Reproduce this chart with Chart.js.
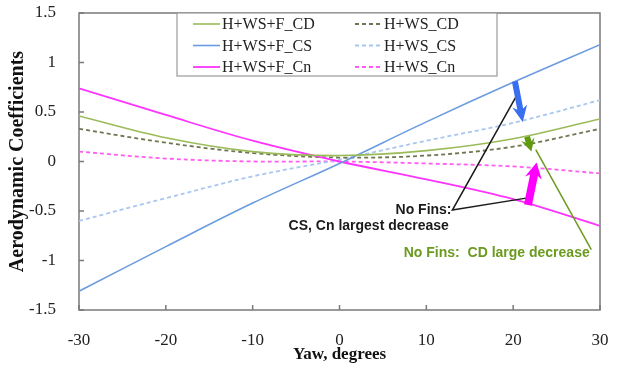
<!DOCTYPE html>
<html>
<head>
<meta charset="utf-8">
<script src="https://cdn.jsdelivr.net/npm/chart.js@4.4.1/dist/chart.umd.min.js"></script>
<style>
html, body { margin: 0; padding: 0; background: #fff; }
canvas { display: block; }
</style>
</head>
<body>
<canvas id="chart" width="617" height="368"></canvas>
<script>
// Yaw angles (degrees)
const yaw = [-30, -20, -10, 0, 10, 20, 30];

// With fins
const finsCD = [0.46, 0.24, 0.10, 0.06, 0.11, 0.23, 0.43];
const finsCS = [-1.31, -0.86, -0.42, -0.02, 0.40, 0.80, 1.18];
const finsCn = [0.74, 0.47, 0.21, 0.00, -0.18, -0.38, -0.65];

// Without fins
const noFinsCD = [0.33, 0.19, 0.085, 0.04, 0.06, 0.15, 0.33];
const noFinsCS = [-0.60, -0.37, -0.15, 0.02, 0.21, 0.39, 0.62];
const noFinsCn = [0.10, 0.03, 0.00, 0.00, -0.02, -0.05, -0.12];

const labels = ['H+WS+F_CD', 'H+WS+F_CS', 'H+WS+F_Cn', 'H+WS_CD', 'H+WS_CS', 'H+WS_Cn'];
const yTicks = [-1.5, -1, -0.5, 0, 0.5, 1, 1.5];
const xTicks = [-30, -20, -10, 0, 10, 20, 30];

// Callouts, in data units (yaw, coefficient)
const arrowCS = [[20.2, 0.81], [21.1, 0.40]];
const arrowCD = [[21.6, 0.25], [22.1, 0.10]];
const arrowCn = [[21.7, -0.44], [22.7, -0.01]];
const leaderCSCn = [[20.3, 0.65], [13.0, -0.49], [21.5, -0.37]];
const leaderCD = [[22.6, 0.12], [29.0, -0.89]];
const noteBlack = [12.9, -0.49];
const noteBlack2 = [12.6, -0.655];
const noteGreen = [7.4, -0.93];

const toXY = vals => vals.map((v, i) => ({ x: yaw[i], y: v }));

const serif = "'Liberation Serif', 'Times New Roman', serif";
const sans = "'Liberation Sans', Arial, sans-serif";

function line(label, data, color, dashed, width) {
    return {
        label,
        data: toXY(data),
        borderColor: color,
        backgroundColor: color,
        borderWidth: width,
        borderDash: dashed ? [4, 3] : [],
        pointRadius: 0,
        fill: false,
        tension: 0.35
    };
}

const datasets = [
    line(labels[0], finsCD, '#9bbb59', false, 1.6),
    line(labels[1], finsCS, '#6b9be0', false, 1.6),
    line(labels[2], finsCn, '#ff33ff', false, 1.8),
    line(labels[3], noFinsCD, '#6f7752', true, 1.8),
    line(labels[4], noFinsCS, '#a8c6f2', true, 1.8),
    line(labels[5], noFinsCn, '#ff5cf0', true, 1.8)
];

// Box frame + inward tick marks
const framePlugin = {
    id: 'frame',
    beforeDatasetsDraw(chart) {
        const { ctx, chartArea: a, scales } = chart;
        ctx.save();
        ctx.strokeStyle = '#7a7a7a';
        ctx.lineWidth = 1.5;
        ctx.strokeRect(a.left, a.top, a.right - a.left, a.bottom - a.top);
        ctx.beginPath();
        yTicks.forEach(v => {
            const y = scales.y.getPixelForValue(v);
            ctx.moveTo(a.left, y);
            ctx.lineTo(a.left + 5, y);
        });
        xTicks.forEach(v => {
            const x = scales.x.getPixelForValue(v);
            ctx.moveTo(x, a.bottom);
            ctx.lineTo(x, a.bottom - 5);
        });
        ctx.stroke();
        ctx.restore();
    }
};

// Two-column legend inside the plot
const legendPlugin = {
    id: 'boxLegend',
    afterDatasetsDraw(chart) {
        const { ctx, chartArea: a } = chart;
        const left = 177, right = 497, top = a.top, bottom = 76;
        ctx.save();
        ctx.fillStyle = '#fff';
        ctx.fillRect(left, top, right - left, bottom - top);
        ctx.strokeStyle = '#9a9a9a';
        ctx.lineWidth = 1.2;
        ctx.strokeRect(left, top, right - left, bottom - top);
        ctx.font = '16px ' + serif;
        ctx.textBaseline = 'middle';
        ctx.fillStyle = '#222';
        chart.data.datasets.forEach((ds, i) => {
            const col = Math.floor(i / 3), row = i % 3;
            const x = col === 0 ? 193 : 355;
            const y = top + 11 + row * 21.5;
            ctx.strokeStyle = ds.borderColor;
            ctx.lineWidth = ds.borderWidth;
            ctx.setLineDash(ds.borderDash);
            ctx.beginPath();
            ctx.moveTo(x, y);
            ctx.lineTo(x + 27, y);
            ctx.stroke();
            ctx.setLineDash([]);
            ctx.fillText(ds.label, x + 29, y + 1);
        });
        ctx.restore();
    }
};

function arrow(ctx, p0, p1, shaft, headW, headL, color) {
    const ang = Math.atan2(p1[1] - p0[1], p1[0] - p0[0]);
    const len = Math.hypot(p1[0] - p0[0], p1[1] - p0[1]);
    ctx.save();
    ctx.translate(p0[0], p0[1]);
    ctx.rotate(ang);
    ctx.fillStyle = color;
    ctx.beginPath();
    ctx.moveTo(0, -shaft / 2);
    ctx.lineTo(len - headL, -shaft / 2);
    ctx.lineTo(len - headL - 3, -headW / 2);
    ctx.lineTo(len, 0);
    ctx.lineTo(len - headL - 3, headW / 2);
    ctx.lineTo(len - headL, shaft / 2);
    ctx.lineTo(0, shaft / 2);
    ctx.closePath();
    ctx.fill();
    ctx.restore();
}

const calloutPlugin = {
    id: 'callouts',
    afterDatasetsDraw(chart) {
        const { ctx, scales } = chart;
        const px = p => [scales.x.getPixelForValue(p[0]), scales.y.getPixelForValue(p[1])];
        ctx.save();
        ctx.lineWidth = 1.5;
        ctx.strokeStyle = '#1a1a1a';
        ctx.beginPath();
        leaderCSCn.map(px).forEach((p, i) => i ? ctx.lineTo(p[0], p[1]) : ctx.moveTo(p[0], p[1]));
        ctx.stroke();
        ctx.strokeStyle = '#6b9a1e';
        ctx.beginPath();
        leaderCD.map(px).forEach((p, i) => i ? ctx.lineTo(p[0], p[1]) : ctx.moveTo(p[0], p[1]));
        ctx.stroke();

        arrow(ctx, px(arrowCS[0]), px(arrowCS[1]), 6, 15, 13, '#3a6ef0');
        arrow(ctx, px(arrowCD[0]), px(arrowCD[1]), 6, 14, 10, '#5f9a10');
        arrow(ctx, px(arrowCn[0]), px(arrowCn[1]), 8, 17, 13, '#ff00ff');

        ctx.font = 'bold 14px ' + sans;
        ctx.textBaseline = 'middle';
        ctx.fillStyle = '#1a1a1a';
        ctx.textAlign = 'right';
        let p = px(noteBlack);
        ctx.fillText('No Fins:', p[0], p[1]);
        p = px(noteBlack2);
        ctx.fillText('CS, Cn largest decrease', p[0], p[1]);
        ctx.textAlign = 'left';
        ctx.fillStyle = '#6b9a1e';
        p = px(noteGreen);
        ctx.fillText('No Fins:  CD large decrease', p[0], p[1]);
        ctx.restore();
    }
};

new Chart(document.getElementById('chart').getContext('2d'), {
    type: 'line',
    data: { datasets },
    options: {
        responsive: false,
        animation: false,
        devicePixelRatio: 1,
        layout: { padding: { left: 0, right: 17, top: 13, bottom: 0 } },
        plugins: { legend: { display: false }, tooltip: { enabled: false } },
        scales: {
            x: {
                type: 'linear',
                min: -30,
                max: 30,
                afterFit: s => { s.height = 58; s.paddingLeft = 0; s.paddingRight = 0; },
                grid: { display: false },
                border: { display: false },
                ticks: { stepSize: 10, padding: 12, color: '#222', font: { family: serif, size: 17 } },
                title: { display: true, text: 'Yaw, degrees', color: '#111', padding: { top: 0, bottom: 3 }, font: { family: serif, size: 17, weight: 'bold' } }
            },
            y: {
                min: -1.5,
                max: 1.5,
                afterFit: s => { s.width = 79; s.paddingTop = 0; s.paddingBottom = 0; },
                grid: { display: false },
                border: { display: false },
                ticks: {
                    stepSize: 0.5, padding: 15, color: '#222', font: { family: serif, size: 17 },
                    callback: v => String(Math.round(v * 10) / 10)
                },
                title: { display: true, text: 'Aerodynamic Coefficients', color: '#111', padding: { top: 6, bottom: 0 }, font: { family: serif, size: 20, weight: 'bold' } }
            }
        }
    },
    plugins: [framePlugin, legendPlugin, calloutPlugin]
});
</script>
</body>
</html>
